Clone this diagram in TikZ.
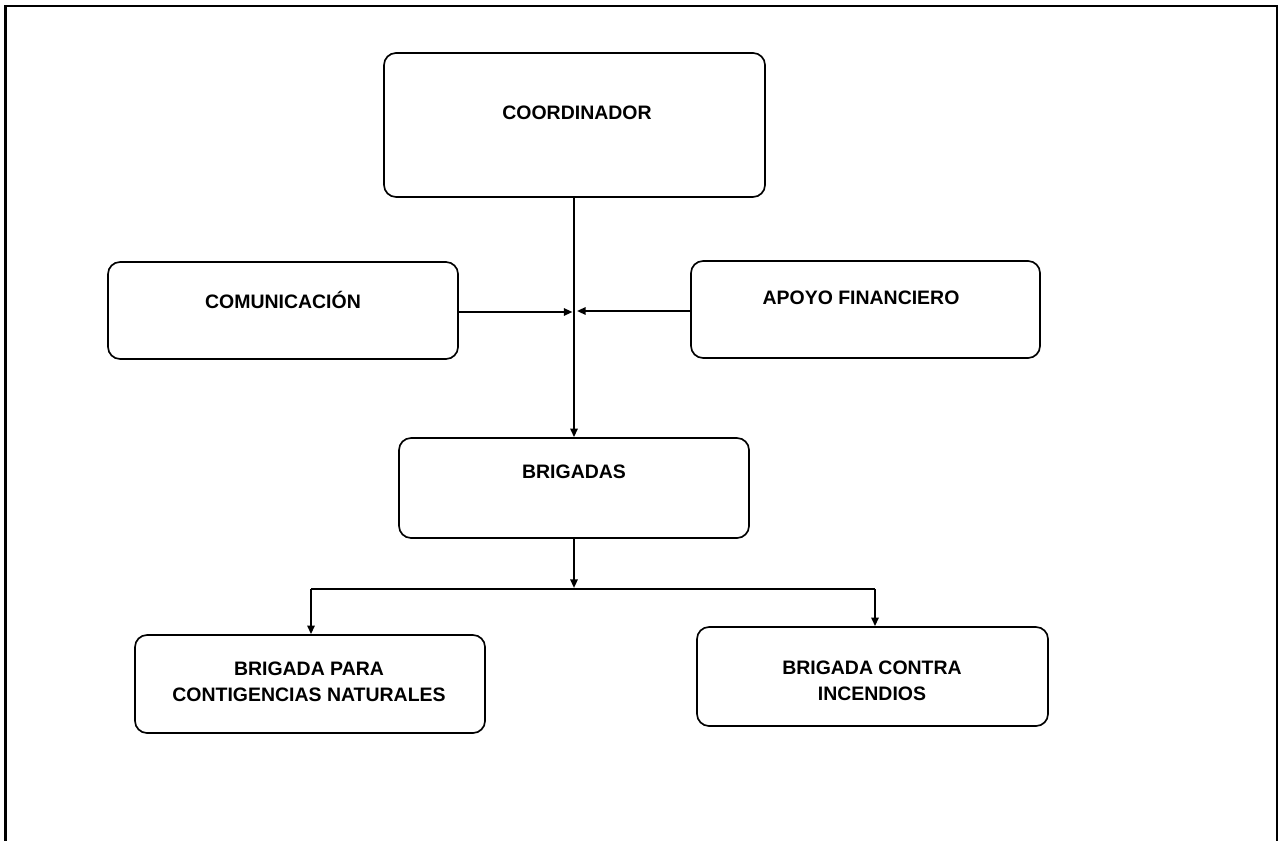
\documentclass[tikz,border=0pt]{standalone}
\usepackage{fontspec}
\setmainfont{Liberation Sans}
\usetikzlibrary{arrows.meta}
\tikzset{
  box/.style={draw=black, line width=1.25pt, rounded corners=9pt, inner sep=0pt, fill=white},
  lbl/.style={font=\fontsize{14.6}{19.5}\selectfont\bfseries, align=center, inner sep=0pt},
  conn/.style={line width=1.5pt, -{Triangle[length=6.5pt,width=5.5pt]}},
  plain/.style={line width=1.5pt}
}
\begin{document}
\begin{tikzpicture}[x=0.75pt,y=-0.75pt]
\useasboundingbox (0,0) rectangle (1280,841);
% frame (open at the bottom)
\draw[line width=1.6pt] (5.5,841) -- (5.5,6) -- (1277,6) -- (1277,841);

% boxes
\node[box, minimum width=285.75pt, minimum height=108pt] (coord) at (574.5,125) {};
\node[box, minimum width=262.5pt, minimum height=72.75pt] (comm) at (283,310.5) {};
\node[box, minimum width=261.75pt, minimum height=72.75pt] (apoyo) at (865.5,309.5) {};
\node[box, minimum width=262.5pt, minimum height=75pt] (brig) at (574,488) {};
\node[box, minimum width=262.5pt, minimum height=73.5pt] (bpara) at (310,684) {};
\node[box, minimum width=263.25pt, minimum height=74.25pt] (bcontra) at (872.5,676.5) {};

% texts
\node[lbl] (tcoord) at (577,113) {COORDINADOR};
\node[lbl] (tcomm) at (283,300) {COMUNICACIÓN};
\node[lbl] (tapoyo) at (861,298) {APOYO FINANCIERO};
\node[lbl] (tbrig) at (574,472) {BRIGADAS};
\node[lbl] (tbpara) at (309,681.5) {BRIGADA PARA\\CONTIGENCIAS NATURALES};
\node[lbl] (tbcontra) at (872,681) {BRIGADA CONTRA\\INCENDIOS};

% junction coordinates
\coordinate (jl) at (572.5,312);
\coordinate (jr) at (577,311);
\coordinate (jb) at (574,588);
\coordinate (hl) at (311,589);
\coordinate (hr) at (875,589);

% connectors
\draw[conn] (coord.south -| brig.north) -- (brig.north);
\draw[conn] (comm.east |- jl) -- (jl);
\draw[conn] (apoyo.west |- jr) -- (jr);
\draw[conn] (brig.south) -- (jb);
\draw[plain] (hl) -- (hr);
\draw[conn] (hl) -- (hl |- bpara.north);
\draw[conn] (hr) -- (hr |- bcontra.north);
\end{tikzpicture}
\end{document}
